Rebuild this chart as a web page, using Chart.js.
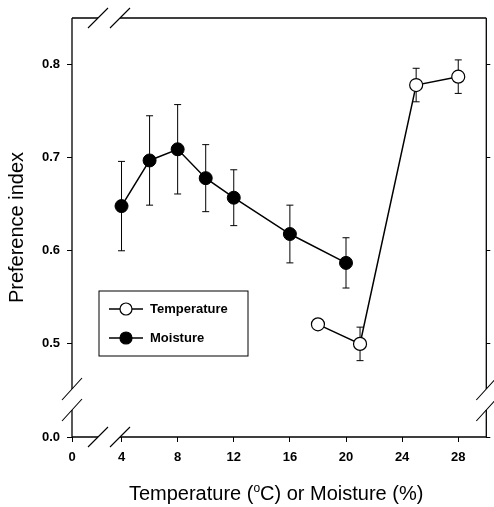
<!DOCTYPE html>
<html>
<head>
<meta charset="utf-8">
<script src="https://cdn.jsdelivr.net/npm/chart.js@4.4.1/dist/chart.umd.min.js"></script>
<style>
  html, body { margin: 0; padding: 0; background: #fff; }
  #wrap { width: 494px; height: 507px; position: relative; }
</style>
</head>
<body>
<div id="wrap"><canvas id="grafico"></canvas></div>
<script>
// Dados
const moistureX = [4, 6, 8, 10, 12, 16, 20];
const moistureY = [0.648, 0.697, 0.709, 0.678, 0.657, 0.618, 0.587];
const moistureErr = [0.048, 0.048, 0.048, 0.036, 0.030, 0.031, 0.027];

const tempX = [18, 21, 25, 28];
const tempY = [0.521, 0.500, 0.778, 0.787];
const tempErr = [0, 0.018, 0.018, 0.018];

// eixos quebrados: o primeiro tick representa o zero
const xTicks = [0.47, 4, 8, 12, 16, 20, 24, 28];
const xTickLabels = ['0', '4', '8', '12', '16', '20', '24', '28'];
const xMax = 30;
const yTicks = [0.4, 0.5, 0.6, 0.7, 0.8];
const yTickLabels = ['0.0', '0.5', '0.6', '0.7', '0.8'];
const yMax = 0.85;

const FONTE = "'Liberation Sans', Arial, sans-serif";

function pares(xs, ys) {
  return xs.map((x, i) => ({ x: x, y: ys[i] }));
}

// Barras de erro (desenhadas atrás dos pontos)
const barrasErro = {
  id: 'barrasErro',
  beforeDatasetsDraw(chart) {
    const ctx = chart.ctx;
    const sy = chart.scales.y;
    ctx.save();
    ctx.strokeStyle = '#000';
    ctx.lineWidth = 1;
    chart.data.datasets.forEach((ds, di) => {
      const meta = chart.getDatasetMeta(di);
      meta.data.forEach((pt, i) => {
        const e = ds.erros[i];
        if (!e) return;
        const v = ds.data[i].y;
        const y1 = sy.getPixelForValue(v + e);
        const y2 = sy.getPixelForValue(v - e);
        const x = pt.x;
        ctx.beginPath();
        ctx.moveTo(x, y1); ctx.lineTo(x, y2);
        ctx.moveTo(x - 3.5, y1); ctx.lineTo(x + 3.5, y1);
        ctx.moveTo(x - 3.5, y2); ctx.lineTo(x + 3.5, y2);
        ctx.stroke();
      });
    });
    ctx.restore();
  }
};

// Moldura com as marcas de quebra
const moldura = {
  id: 'moldura',
  afterDraw(chart) {
    const ctx = chart.ctx;
    const a = chart.chartArea;
    const bx1 = a.left + 26, bx2 = a.left + 48;     // quebra horizontal
    const by1 = a.bottom - 48, by2 = a.bottom - 27; // quebra vertical
    ctx.save();
    ctx.strokeStyle = '#000';
    ctx.lineWidth = 1.3;
    ctx.beginPath();
    // topo e base
    [a.top, a.bottom].forEach(y => {
      ctx.moveTo(a.left, y); ctx.lineTo(bx1, y);
      ctx.moveTo(bx2, y); ctx.lineTo(a.right, y);
    });
    // esquerda e direita
    [a.left, a.right].forEach(x => {
      ctx.moveTo(x, a.top); ctx.lineTo(x, by1);
      ctx.moveTo(x, by2); ctx.lineTo(x, a.bottom);
    });
    ctx.stroke();
    ctx.lineWidth = 1.1;
    ctx.beginPath();
    [bx1, bx2].forEach(x => {
      [a.top, a.bottom].forEach(y => {
        ctx.moveTo(x - 10, y + 10); ctx.lineTo(x + 10, y - 10);
      });
    });
    [by1, by2].forEach(y => {
      [a.left, a.right].forEach(x => {
        ctx.moveTo(x - 10, y + 11); ctx.lineTo(x + 10, y - 11);
      });
    });
    ctx.stroke();
    ctx.restore();
  }
};

// Legenda dentro da área do gráfico
const legendaInterna = {
  id: 'legendaInterna',
  afterDraw(chart) {
    const ctx = chart.ctx;
    const a = chart.chartArea;
    const bx = a.left + 27, by = a.top + 273, bw = 149, bh = 65;
    ctx.save();
    ctx.strokeStyle = '#000';
    ctx.lineWidth = 1;
    ctx.fillStyle = '#fff';
    ctx.fillRect(bx, by, bw, bh);
    ctx.strokeRect(bx, by, bw, bh);
    const ordem = [1, 0];
    ordem.forEach((di, k) => {
      const ds = chart.data.datasets[di];
      const y = by + 18 + k * 29;
      ctx.beginPath();
      ctx.moveTo(bx + 10, y); ctx.lineTo(bx + 44, y);
      ctx.lineWidth = 1.3;
      ctx.stroke();
      ctx.beginPath();
      ctx.arc(bx + 27, y, 6, 0, Math.PI * 2);
      ctx.fillStyle = ds.pointBackgroundColor;
      ctx.fill();
      ctx.lineWidth = 1.2;
      ctx.stroke();
      ctx.fillStyle = '#000';
      ctx.font = 'bold 13px ' + FONTE;
      ctx.textBaseline = 'middle';
      ctx.fillText(ds.label, bx + 51, y);
    });
    ctx.restore();
  }
};

// Título do eixo x com o "o" sobrescrito
const tituloX = {
  id: 'tituloX',
  afterDraw(chart) {
    const ctx = chart.ctx;
    const a = chart.chartArea;
    const partes = [
      ['Temperature (', 20, 0],
      ['o', 12, -8],
      ['C) or Moisture (%)', 20, 0]
    ];
    ctx.save();
    ctx.fillStyle = '#000';
    ctx.textBaseline = 'alphabetic';
    let total = 0;
    partes.forEach(p => { ctx.font = p[1] + 'px ' + FONTE; total += ctx.measureText(p[0]).width; });
    let x = (a.left + a.right) / 2 - 3 - total / 2;
    const base = chart.height - 7;
    partes.forEach(p => {
      ctx.font = p[1] + 'px ' + FONTE;
      ctx.fillText(p[0], x, base + p[2]);
      x += ctx.measureText(p[0]).width;
    });
    ctx.restore();
  }
};

const ticksX = s => { s.ticks = xTicks.map(v => ({ value: v })); };
const ticksY = s => { s.ticks = yTicks.map(v => ({ value: v })); };

const fonteTick = { family: FONTE, weight: 'bold', size: 13 };

new Chart(document.getElementById('grafico'), {
  type: 'scatter',
  data: {
    datasets: [
      {
        label: 'Moisture',
        data: pares(moistureX, moistureY),
        erros: moistureErr,
        showLine: true,
        borderColor: '#000',
        borderWidth: 1.5,
        pointRadius: 6.5,
        pointBackgroundColor: '#000',
        pointBorderColor: '#000',
        pointBorderWidth: 1
      },
      {
        label: 'Temperature',
        data: pares(tempX, tempY),
        erros: tempErr,
        showLine: true,
        borderColor: '#000',
        borderWidth: 1.5,
        pointRadius: 6.5,
        pointBackgroundColor: '#fff',
        pointBorderColor: '#000',
        pointBorderWidth: 1.2
      }
    ]
  },
  options: {
    responsive: true,
    maintainAspectRatio: false,
    animation: false,
    layout: { padding: { top: 18, left: 0, right: 0, bottom: 0 } },
    plugins: {
      legend: { display: false },
      tooltip: { enabled: false }
    },
    scales: {
      x: {
        type: 'linear',
        min: xTicks[0],
        max: xMax,
        afterBuildTicks: ticksX,
        afterFit: s => { s.height = 70; },
        ticks: {
          callback: (v, i) => xTickLabels[i],
          font: fonteTick, color: '#000', padding: 8, maxRotation: 0, autoSkip: false
        },
        grid: { drawOnChartArea: false, drawTicks: true, tickLength: 5, color: '#000', lineWidth: 1 },
        border: { display: false }
      },
      y: {
        type: 'linear',
        position: 'left',
        min: yTicks[0],
        max: yMax,
        afterBuildTicks: ticksY,
        afterFit: s => { s.width = 72; },
        ticks: {
          callback: (v, i) => yTickLabels[i],
          font: fonteTick, color: '#000', padding: 7, autoSkip: false
        },
        grid: { drawOnChartArea: false, drawTicks: true, tickLength: 5, color: '#000', lineWidth: 1 },
        border: { display: false },
        title: {
          display: true,
          text: 'Preference index',
          color: '#000',
          font: { family: FONTE, size: 20 },
          padding: { top: 5, bottom: 0 }
        }
      },
      y2: {
        type: 'linear',
        position: 'right',
        min: yTicks[0],
        max: yMax,
        afterBuildTicks: ticksY,
        afterFit: s => { s.width = 6; },
        ticks: { callback: () => '', padding: 0 },
        grid: { drawOnChartArea: false, drawTicks: true, tickLength: 4, color: '#000', lineWidth: 1 },
        border: { display: false }
      }
    }
  },
  plugins: [barrasErro, moldura, legendaInterna, tituloX]
});
</script>
</body>
</html>
